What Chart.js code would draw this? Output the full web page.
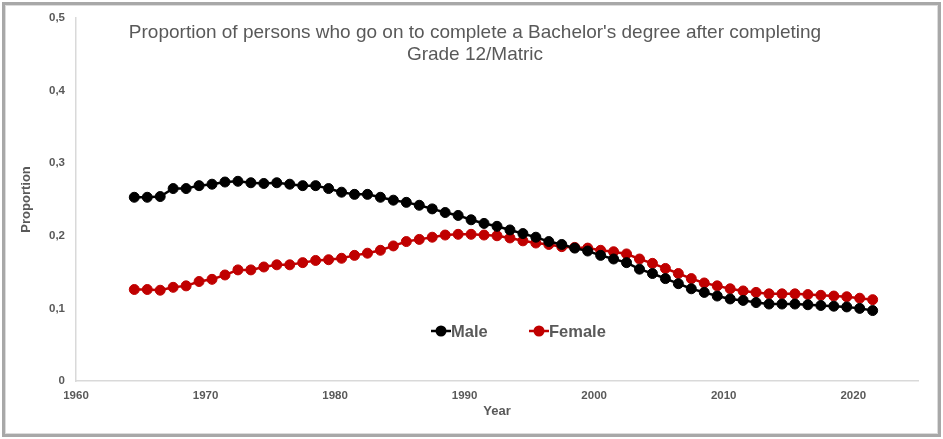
<!DOCTYPE html>
<html lang="en">
<head>
  <meta charset="UTF-8">
  <title>Bachelor's degree after Grade 12</title>
  <style>
    body {
      margin: 0;
      padding: 0;
      background-color: #ffffff;
      font-family: Arial, "Liberation Sans", sans-serif;
      overflow: hidden;
    }

    .quadro {
      position: relative;
      width: 943px;
      height: 439px;
    }

    .quadro canvas {
      position: absolute;
      left: 0;
      top: 0;
    }

    .moldura {
      position: absolute;
      left: 2px;
      top: 2px;
      width: 939px;
      height: 435px;
      box-sizing: border-box;
      border: 3px solid #a8a8a8;
      box-shadow: inset 0 0 0 1px #dcdcdc;
      pointer-events: none;
    }

    .titulo {
      position: absolute;
      left: 5px;
      top: 21px;
      width: 940px;
      text-align: center;
      font-size: 19px;
      line-height: 21.5px;
      color: #595959;
    }

    .legenda {
      position: absolute;
      top: 320px;
      height: 22px;
      font-size: 16.5px;
      font-weight: bold;
      color: #595959;
      line-height: 22px;
      white-space: nowrap;
    }

    .legenda svg {
      vertical-align: middle;
      margin-top: -3px;
    }
  </style>
</head>
<body>
  <div class="quadro">
    <canvas id="grafico" width="943" height="439"></canvas>
    <div class="titulo">Proportion of persons who go on to complete a Bachelor's degree after completing<br>Grade 12/Matric</div>
    <div class="legenda" style="left: 431px;"><svg width="20" height="12"><line x1="0" y1="6" x2="20" y2="6" stroke="#000000" stroke-width="2.5"/><circle cx="10" cy="6" r="5.5" fill="#000000"/></svg>Male</div>
    <div class="legenda" style="left: 529px;"><svg width="20" height="12"><line x1="0" y1="6" x2="20" y2="6" stroke="#c00000" stroke-width="2.5"/><circle cx="10" cy="6" r="5.5" fill="#c00000"/></svg>Female</div>
    <div class="moldura"></div>
  </div>

  <script src="https://cdn.jsdelivr.net/npm/chart.js"></script>
  <script>
    const anos = [
      1964.5, 1965.5, 1966.5, 1967.5, 1968.5, 1969.5, 1970.5, 1971.5, 1972.5, 1973.5,
      1974.5, 1975.5, 1976.5, 1977.5, 1978.5, 1979.5, 1980.5, 1981.5, 1982.5, 1983.5,
      1984.5, 1985.5, 1986.5, 1987.5, 1988.5, 1989.5, 1990.5, 1991.5, 1992.5, 1993.5,
      1994.5, 1995.5, 1996.5, 1997.5, 1998.5, 1999.5, 2000.5, 2001.5, 2002.5, 2003.5,
      2004.5, 2005.5, 2006.5, 2007.5, 2008.5, 2009.5, 2010.5, 2011.5, 2012.5, 2013.5,
      2014.5, 2015.5, 2016.5, 2017.5, 2018.5, 2019.5, 2020.5, 2021.5
    ];

    const male = [
      0.253, 0.253, 0.254, 0.265, 0.265, 0.269, 0.271, 0.274, 0.275, 0.273,
      0.272, 0.273, 0.271, 0.269, 0.269, 0.265, 0.260, 0.257, 0.257, 0.253,
      0.249, 0.246, 0.242, 0.237, 0.232, 0.228, 0.222, 0.217, 0.213, 0.208,
      0.203, 0.198, 0.192, 0.188, 0.183, 0.179, 0.173, 0.168, 0.163, 0.154,
      0.148, 0.141, 0.134, 0.127, 0.122, 0.117, 0.113, 0.111, 0.108, 0.106,
      0.106, 0.106, 0.105, 0.104, 0.103, 0.102, 0.100, 0.097
    ];

    const female = [
      0.126, 0.126, 0.125, 0.129, 0.131, 0.137, 0.140, 0.146, 0.153, 0.153,
      0.157, 0.160, 0.160, 0.163, 0.166, 0.167, 0.169, 0.173, 0.176, 0.180,
      0.186, 0.192, 0.195, 0.198, 0.201, 0.202, 0.202, 0.201, 0.200, 0.197,
      0.193, 0.190, 0.188, 0.185, 0.184, 0.183, 0.180, 0.178, 0.175, 0.168,
      0.162, 0.155, 0.148, 0.141, 0.135, 0.131, 0.127, 0.124, 0.122, 0.120,
      0.120, 0.120, 0.119, 0.118, 0.117, 0.116, 0.114, 0.112
    ];

    const yTicks = ['0', '0,1', '0,2', '0,3', '0,4', '0,5'];
    const xTicks = ['1960', '1970', '1980', '1990', '2000', '2010', '2020'];

    const cinza = '#595959';
    const linhaEixo = '#d9d9d9';
    const fonte = 'Arial, "Liberation Sans", sans-serif';

    function serie(nome, valores, cor) {
      return {
        label: nome,
        data: anos.map((a, i) => ({ x: a, y: valores[i] })),
        borderColor: cor,
        backgroundColor: cor,
        borderWidth: 2.5,
        pointRadius: 5,
        pointBorderWidth: 1,
        pointBackgroundColor: cor,
        pointBorderColor: cor,
        tension: 0
      };
    }

    const ctx = document.getElementById('grafico').getContext('2d');
    const grafico = new Chart(ctx, {
      type: 'line',
      data: {
        datasets: [
          serie('Male', male, '#000000'),
          serie('Female', female, '#c00000')
        ]
      },
      options: {
        responsive: false,
        animation: false,
        layout: {
          padding: { left: 0, top: 16, right: 25, bottom: 0 }
        },
        plugins: {
          legend: { display: false },
          title: { display: false },
          tooltip: { enabled: false }
        },
        scales: {
          x: {
            type: 'linear',
            min: 1960,
            max: 2025,
            grid: { display: false, tickLength: 0 },
            border: { display: true, color: linhaEixo, width: 1.5 },
            ticks: {
              stepSize: 10,
              padding: 8,
              color: cinza,
              font: { family: fonte, size: 11.5, weight: 'bold' },
              callback: (v) => xTicks[Math.round((v - 1960) / 10)] || ''
            },
            title: {
              display: true,
              text: 'Year',
              color: cinza,
              font: { family: fonte, size: 13, weight: 'bold' },
              padding: { top: 0, bottom: 19.5 }
            },
            afterFit: (s) => { s.height = 58; }
          },
          y: {
            min: 0,
            max: 0.5,
            grid: { display: false, tickLength: 0 },
            border: { display: true, color: linhaEixo, width: 1.5 },
            ticks: {
              stepSize: 0.1,
              padding: 11,
              color: cinza,
              font: { family: fonte, size: 11.5, weight: 'bold' },
              callback: (v) => yTicks[Math.round(v * 10)]
            },
            title: {
              display: true,
              text: 'Proportion',
              color: cinza,
              font: { family: fonte, size: 13, weight: 'bold' },
              padding: { top: 19, bottom: 0 }
            },
            afterFit: (s) => { s.width = 76; }
          }
        }
      }
    });
  </script>
</body>
</html>
